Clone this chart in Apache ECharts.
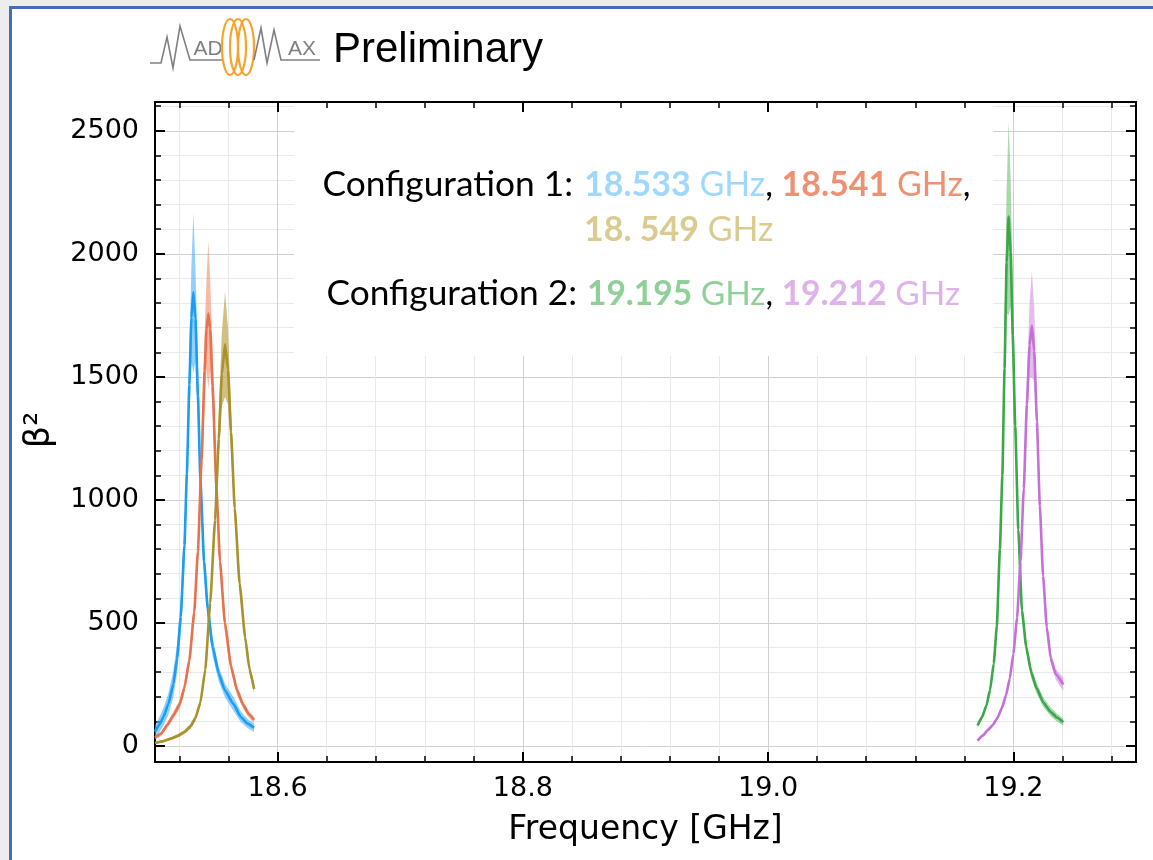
<!DOCTYPE html>
<html>
<head>
<meta charset="utf-8">
<script src="https://cdn.jsdelivr.net/npm/echarts@6/dist/echarts.min.js"></script>
<style>
html,body{margin:0;padding:0;background:#ededed;}
#frame{position:absolute;left:9px;top:6px;right:0;bottom:0;background:#fff;border-left:3px solid #4270b8;border-top:3px solid #4270b8;}
#chart{position:absolute;left:0;top:0;width:1153px;height:860px;}
</style>
</head>
<body>
<div id="frame"></div>
<div id="chart"></div>
<script>
// ---------------- data ----------------
// Configuration 1
const blueFreq = [18.500,18.504,18.507,18.511,18.515,18.518,18.521,18.524,18.526,18.528,18.5297,18.5313,18.533,18.535,18.537,18.540,18.543,18.547,18.552,18.557,18.5639,18.570,18.5755,18.5808];
const blueMid  = [58,90,120,172,253,356,525,816,1108,1467,1740,1845,1736,1424,1085,750,557,403,293,226,171,118,91,74];
const blueLo   = [32,58,84,128,200,296,455,735,1015,1340,1560,1520,1560,1300,1000,690,510,365,262,198,143,97,73,57];
const blueHi   = [82,122,156,216,306,416,595,895,1200,1600,1950,2166,1940,1560,1170,810,605,440,322,254,200,140,110,92];

const orangeFreq = [18.500,18.505,18.510,18.515,18.520,18.524,18.528,18.532,18.535,18.538,18.5405,18.542,18.5435,18.545,18.547,18.550,18.553,18.557,18.562,18.567,18.572,18.5765,18.5808];
const orangeMid  = [34,50,85,125,168,237,348,544,791,1164,1525,1693,1757,1694,1462,1058,750,499,324,225,166,129,106];
const orangeLo   = [26,41,73,110,150,215,320,505,740,1090,1400,1530,1452,1530,1350,990,700,465,300,206,150,115,93];
const orangeHi   = [42,59,97,140,186,259,376,583,842,1240,1680,1900,2052,1900,1600,1130,800,533,348,244,182,143,119];

const oliveFreq = [18.500,18.507,18.513,18.5185,18.524,18.529,18.533,18.537,18.541,18.545,18.549,18.552,18.5545,18.5571,18.5595,18.562,18.565,18.569,18.5735,18.577,18.5808];
const oliveMid  = [12,20,30,41,57,80,114,177,310,580,919,1249,1511,1632,1530,1277,966,660,442,314,232];
const oliveLo   = [8,15,24,34,49,70,102,162,290,548,870,1160,1380,1418,1390,1190,915,625,418,294,213];
const oliveHi   = [16,25,36,48,65,90,126,192,330,612,970,1350,1680,1845,1700,1380,1020,695,466,334,253];

// Configuration 2
const greenFreq = [19.1708,19.1745,19.178,19.181,19.184,19.1865,19.189,19.191,19.1928,19.1945,19.1961,19.1978,19.1995,19.2015,19.204,19.207,19.2105,19.2145,19.219,19.2245,19.2305,19.2355,19.2407];
const greenMid  = [83,118,164,228,336,488,800,1098,1534,1965,2152,2006,1667,1300,880,550,402,300,234,176,138,116,97];
const greenLo   = [74,108,152,214,318,464,760,1040,1430,1760,1750,1790,1540,1220,835,518,375,277,213,157,121,100,83];
const greenHi   = [92,128,176,242,354,512,845,1170,1700,2260,2536,2300,1860,1400,930,584,430,325,256,196,156,132,111];

const purpleFreq = [19.1708,19.175,19.179,19.183,19.187,19.1905,19.194,19.197,19.200,19.203,19.2058,19.2085,19.211,19.2132,19.2151,19.217,19.2192,19.2216,19.2242,19.2272,19.2305,19.2345,19.2407];
const purpleMid  = [22,42,64,84,114,153,206,273,375,520,747,1047,1387,1628,1709,1606,1316,976,692,484,356,292,250];
const purpleLo   = [18,37,58,77,105,142,193,257,354,493,712,990,1300,1500,1499,1480,1235,925,655,458,336,270,224];
const purpleHi   = [26,47,70,91,123,164,219,289,396,547,782,1105,1480,1800,1929,1780,1400,1028,729,510,378,314,278];

// axes
const xRange = [18.5, 19.3];
const yRange = [-65, 2617];
const xTitle = 'Frequency [GHz]';
const yTitle = 'β²';

// ---------------- chart ----------------
const chart = echarts.init(document.getElementById('chart'), null, {renderer: 'canvas'});
const tickFont = {fontFamily: 'DejaVu Sans', fontSize: 27, color: '#000'};

function band(freq, lo, hi, fill) {
  return {
    type: 'custom', silent: true, z: 2, clip: true,
    data: freq.map((f, i) => [f, lo[i], hi[i]]),
    encode: {x: 0, y: [1, 2]},
    renderItem: function (params, api) {
      if (params.dataIndex !== 0) return null;
      const top = freq.map((f, i) => api.coord([f, hi[i]]));
      const bot = freq.map((f, i) => api.coord([f, lo[i]])).reverse();
      return {type: 'polygon', shape: {points: top.concat(bot), smooth: 0}, style: {fill: fill}};
    }
  };
}
function line(freq, mid, color) {
  return {
    type: 'line', silent: true, z: 3, symbol: 'none', showSymbol: false,
    smooth: 0.15, smoothMonotone: 'x',
    data: freq.map((f, i) => [f, mid[i]]),
    lineStyle: {color: color, width: 2.6}
  };
}

const baseAxis = {
  type: 'value',
  axisLine: {show: true, onZero: false, lineStyle: {color: '#000', width: 2}},
  axisTick: {show: true, inside: true, length: 10, lineStyle: {color: '#000', width: 2}},
  minorTick: {show: true, splitNumber: 5, length: 6, lineStyle: {color: '#000', width: 1.5}},
};

const option = {
  animation: false,
  grid: {left: 155, right: 17, top: 102, bottom: 98, containLabel: false},
  xAxis: [
    Object.assign({}, baseAxis, {
      min: xRange[0], max: xRange[1], position: 'bottom',
      axisLabel: Object.assign({}, tickFont, {margin: 13, showMinLabel: false, showMaxLabel: false,
        formatter: v => v.toFixed(1)}),
      splitLine: {show: true, lineStyle: {color: '#d0d0d0', width: 1}},
      minorSplitLine: {show: true, lineStyle: {color: '#e9e9e9', width: 1}},
      name: xTitle, nameLocation: 'middle', nameGap: 52,
      nameTextStyle: {fontFamily: 'DejaVu Sans', fontSize: 33, color: '#000'}
    }),
    Object.assign({}, baseAxis, {
      min: xRange[0], max: xRange[1], position: 'top', z: 5,
      axisLabel: {show: false}, splitLine: {show: false}
    })
  ],
  yAxis: [
    Object.assign({}, baseAxis, {
      min: yRange[0], max: yRange[1], position: 'left',
      axisLabel: Object.assign({}, tickFont, {margin: 16, showMinLabel: false, showMaxLabel: false,
        formatter: v => String(Math.round(v) === 0 ? 0 : Math.round(v))}),
      splitLine: {show: true, lineStyle: {color: '#d0d0d0', width: 1}},
      minorSplitLine: {show: true, lineStyle: {color: '#e9e9e9', width: 1}}
    }),
    Object.assign({}, baseAxis, {
      min: yRange[0], max: yRange[1], position: 'right', z: 5,
      axisLabel: {show: false}, splitLine: {show: false}
    })
  ],
  series: [
    band(blueFreq, blueLo, blueHi, 'rgba(72,176,250,0.6)'),
    line(blueFreq, blueMid, '#1a9cf7'),
    band(orangeFreq, orangeLo, orangeHi, 'rgba(238,140,110,0.6)'),
    line(orangeFreq, orangeMid, '#e8714e'),
    band(oliveFreq, oliveLo, oliveHi, 'rgba(185,158,60,0.65)'),
    line(oliveFreq, oliveMid, '#a8922c'),
    band(greenFreq, greenLo, greenHi, 'rgba(110,190,115,0.6)'),
    line(greenFreq, greenMid, '#3aa748'),
    band(purpleFreq, purpleLo, purpleHi, 'rgba(212,150,226,0.65)'),
    line(purpleFreq, purpleMid, '#c570d8')
  ],
  graphic: {
    elements: [
      // y-axis title
      {type: 'text', silent: true, x: 40, y: 430, rotation: Math.PI / 2,
        style: {text: yTitle, font: '35px "DejaVu Sans"', fill: '#000', align: 'center', verticalAlign: 'middle'}},
      // annotation box
      {type: 'rect', z: 1, silent: true, shape: {x: 294, y: 103, width: 699, height: 253}, style: {fill: '#ffffff'}},
      {type: 'text', z: 4, silent: true, x: 573, y: 185,
        style: {text: 'Configuration 1:', font: '35.3px Lato', fill: '#000', align: 'right', verticalAlign: 'middle'}},
      {type: 'text', z: 4, silent: true, x: 584, y: 185,
        style: {text: '{b1|18.533}{n1| GHz}{k|, }{b2|18.541}{n2| GHz}{k|,}', align: 'left', verticalAlign: 'middle',
          rich: {
            b1: {font: 'bold 34px Lato', fill: '#9ed8ff'}, n1: {font: '34px Lato', fill: '#9ed8ff'},
            b2: {font: 'bold 34px Lato', fill: '#ee9172'}, n2: {font: '34px Lato', fill: '#ee9172'},
            k: {font: '34px Lato', fill: '#000'}
          }}},
      {type: 'text', z: 4, silent: true, x: 584, y: 230,
        style: {text: '{b|18. 549}{n| GHz}', align: 'left', verticalAlign: 'middle',
          rich: {b: {font: 'bold 34px Lato', fill: '#dacb90'}, n: {font: '34px Lato', fill: '#dacb90'}}}},
      {type: 'text', z: 4, silent: true, x: 577, y: 294,
        style: {text: 'Configuration 2:', font: '35.3px Lato', fill: '#000', align: 'right', verticalAlign: 'middle'}},
      {type: 'text', z: 4, silent: true, x: 587, y: 294,
        style: {text: '{b1|19.195}{n1| GHz}{k|, }{b2|19.212}{n2| GHz}', align: 'left', verticalAlign: 'middle',
          rich: {
            b1: {font: 'bold 33.5px Lato', fill: '#8fd09a'}, n1: {font: '33.5px Lato', fill: '#8fd09a'},
            b2: {font: 'bold 33.5px Lato', fill: '#deb2eb'}, n2: {font: '33.5px Lato', fill: '#deb2eb'},
            k: {font: '33.5px Lato', fill: '#000'}
          }}},
      // header logo
      {type: 'polyline', silent: true, shape: {points: [[150,63],[161,63],[167,37],[173,68],[180,26],[190,60],[222,60]]},
        style: {stroke: '#808080', lineWidth: 1.6, fill: null}},
      {type: 'text', silent: true, x: 208, y: 49,
        style: {text: 'AD', font: '21px "Liberation Sans"', fill: '#808080', align: 'center', verticalAlign: 'middle'}},
      {type: 'ellipse', silent: true, shape: {cx: 230, cy: 47, rx: 8, ry: 28}, style: {stroke: '#f5a52c', lineWidth: 2.2, fill: null}},
      {type: 'ellipse', silent: true, shape: {cx: 238, cy: 47, rx: 8, ry: 28}, style: {stroke: '#f5a52c', lineWidth: 2.2, fill: null}},
      {type: 'ellipse', silent: true, shape: {cx: 246, cy: 47, rx: 8, ry: 28}, style: {stroke: '#f5a52c', lineWidth: 2.2, fill: null}},
      {type: 'polyline', silent: true, shape: {points: [[254,60],[261,28],[267,63],[274,30],[281,60],[320,60]]},
        style: {stroke: '#808080', lineWidth: 1.6, fill: null}},
      {type: 'text', silent: true, x: 302, y: 49,
        style: {text: 'AX', font: '21px "Liberation Sans"', fill: '#808080', align: 'center', verticalAlign: 'middle'}},
      {type: 'text', silent: true, x: 333, y: 50,
        style: {text: 'Preliminary', font: '42px "Liberation Sans"', fill: '#000', align: 'left', verticalAlign: 'middle'}}
    ]
  }
};
chart.setOption(option);
</script>
</body>
</html>
